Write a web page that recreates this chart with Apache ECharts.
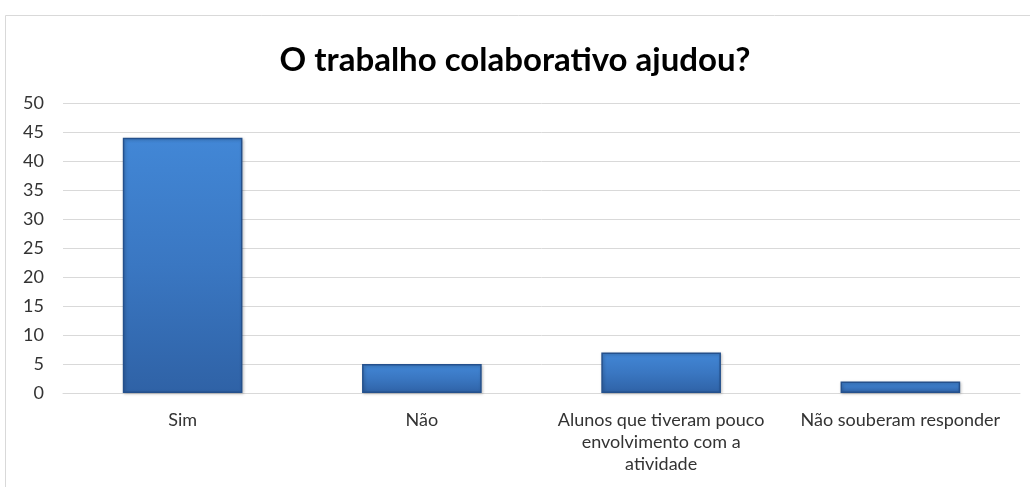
<!DOCTYPE html>
<html><head><meta charset="utf-8">
<script src="https://cdn.jsdelivr.net/npm/echarts@6/dist/echarts.min.js"></script>
<style>html,body{margin:0;padding:0;background:#fff}#c{width:1030px;height:487px}</style>
</head><body><div id="c"></div>
<script>
const title = 'O trabalho colaborativo ajudou?';
const categories = ['Sim', 'Não', 'Alunos que tiveram pouco\nenvolvimento com a\natividade', 'Não souberam responder'];
const values = [44, 5, 7, 2];
const yTicks = {min: 0, max: 50, interval: 5};

const chart = echarts.init(document.getElementById('c'));
chart.setOption({
  backgroundColor: '#ffffff',
  animation: false,
  graphic: [
    {type: 'rect', shape: {x: 5.5, y: 15.5, width: 1040, height: 500}, style: {fill: 'none', stroke: '#d9d9d9', lineWidth: 1}, z: 0}
  ],
  title: {
    text: title, left: 'center', top: 39,
    textStyle: {fontFamily: 'Lato', fontWeight: 'bold', fontSize: 33, color: '#000000'}
  },
  grid: {left: 63, right: 10, top: 103, bottom: 94, containLabel: false},
  xAxis: {
    type: 'category', data: categories,
    axisLine: {lineStyle: {color: '#d9d9d9', width: 1}},
    axisTick: {show: false},
    axisLabel: {fontFamily: 'Lato', fontSize: 18, color: '#333333', lineHeight: 22, margin: 16, interval: 0}
  },
  yAxis: {
    type: 'value', min: yTicks.min, max: yTicks.max, interval: yTicks.interval,
    axisLine: {show: false}, axisTick: {show: false},
    splitLine: {lineStyle: {color: '#d9d9d9', width: 1}},
    axisLabel: {fontFamily: 'Lato', fontSize: 18, color: '#333333', margin: 19}
  },
  series: [{
    type: 'bar', data: values, barWidth: '50%',
    itemStyle: {
      color: new echarts.graphic.LinearGradient(0, 0, 0, 1, [
        {offset: 0, color: '#4287d6'},
        {offset: 0.5, color: '#3a77c2'},
        {offset: 1, color: '#2f62a6'}
      ]),
      borderColor: '#24508c', borderWidth: 1.5,
      shadowColor: 'rgba(0,0,0,0.25)', shadowBlur: 3, shadowOffsetX: 1, shadowOffsetY: 1
    }
  }]
});
</script></body></html>
